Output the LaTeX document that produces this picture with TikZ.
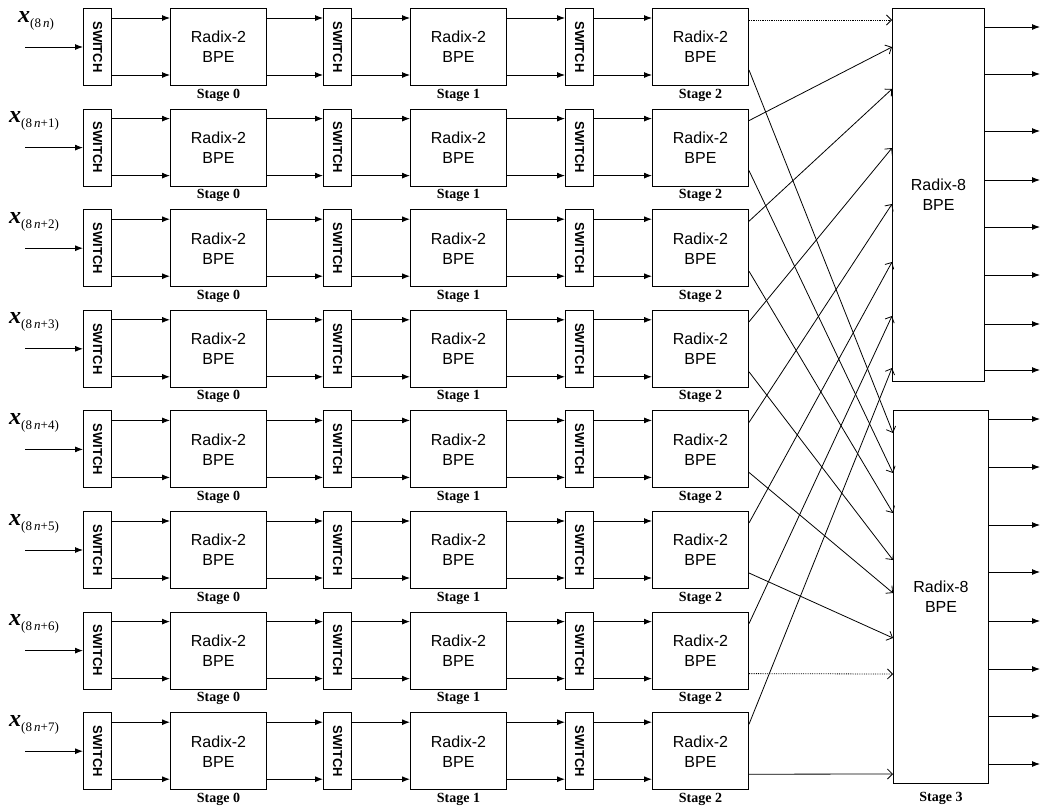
\documentclass[tikz,border=0pt]{standalone}
\usepackage{fontspec}
\setmainfont{Liberation Serif}
\setsansfont{Liberation Sans}
\usetikzlibrary{arrows.meta,calc}
\begin{document}
\begin{tikzpicture}[x=1pt,y=-1pt,
  box/.style={draw, line width=1pt, inner sep=0pt, anchor=north west},
  bpe/.style={box, minimum width=96pt, minimum height=77pt, align=center,
    font=\sffamily\fontsize{16}{20}\selectfont},
  sw/.style={box, minimum width=28pt, minimum height=77pt},
  swtext/.style={font=\sffamily\bfseries\fontsize{13}{13}\selectfont, rotate=-90, inner sep=0pt},
  stg/.style={font=\bfseries\fontsize{14}{15}\selectfont, inner sep=0pt},
  xlab/.style={anchor=base west, inner sep=0pt},
  arr/.style={line width=0.9pt, -{Latex[length=8pt,width=6pt]}},
  oarr/.style={line width=0.8pt, -{Straight Barb[length=5pt,width=10pt]}},
  r8/.style={box, align=center, font=\sffamily\fontsize{16}{20}\selectfont},
]
\useasboundingbox (0,0) rectangle (1042,807);

% Radix-8 blocks
\node[r8, minimum width=92pt, minimum height=373pt] (R8a) at (892,8) {Radix-8\\BPE};
\node[r8, minimum width=95pt, minimum height=373pt] (R8b) at (893,410) {Radix-8\\BPE};
\node[stg] (st3) at ($(R8b.south)+(0,14)$) {Stage 3};

% rows
\foreach \r in {0,...,7}{
  \pgfmathsetmacro\t{8+100.6*\r}
  \node[sw] (sa\r) at (83,\t) {};
  \node[swtext] (sat\r) at (sa\r.center) {SWITCH};
  \node[bpe] (ba\r) at (170,\t) {Radix-2\\BPE};
  \node[stg] (sta\r) at ($(ba\r.south)+(0,9)$) {Stage 0};
  \node[sw] (sb\r) at (323,\t) {};
  \node[swtext] (sbt\r) at (sb\r.center) {SWITCH};
  \node[bpe] (bb\r) at (410,\t) {Radix-2\\BPE};
  \node[stg] (stb\r) at ($(bb\r.south)+(0,9)$) {Stage 1};
  \node[sw] (sc\r) at (565,\t) {};
  \node[swtext] (sct\r) at (sc\r.center) {SWITCH};
  \node[bpe] (bc\r) at (652,\t) {Radix-2\\BPE};
  \node[stg] (stc\r) at ($(bc\r.south)+(0,9)$) {Stage 2};
  % input
  \coordinate (in\r) at (25,\t+39);
  \draw[arr] (in\r) -- (sa\r.west);
  % internal arrows
  \foreach \a/\b in {sa/ba, ba/sb, sb/bb, bb/sc, sc/bc}{
    \draw[arr] ($(\a\r.north east)+(0,10)$) -- ($(\b\r.north west)+(0,10)$);
    \draw[arr] ($(\a\r.north east)+(0,67)$) -- ($(\b\r.north west)+(0,67)$);
  }
}

% input labels
\node[xlab] (xl0) at (18,22) {{\fontsize{24}{24}\selectfont\bfseries\itshape x}\raisebox{-5pt}{\fontsize{13}{13}\selectfont(8\,\textit{n})}};
\foreach \r in {1,...,7}{
  \pgfmathsetmacro\t{8+100.6*\r}
  \node[xlab] (xl\r) at (9,\t+14) {{\fontsize{24}{24}\selectfont\bfseries\itshape x}\raisebox{-5pt}{\fontsize{13}{13}\selectfont(8\,\textit{n}+\r)}};
}

% stage 2 -> radix-8 connections
\foreach \r/\dy in {0/12,1/39,2/81,3/140,4/196,5/254,6/308,7/360}{
  \coordinate (ta\r) at ($(R8a.north west)+(0,\dy)$);
}
\foreach \r/\dy in {0/23,1/63,2/103,3/150,4/183,5/228,6/264,7/364}{
  \coordinate (tb\r) at ($(R8b.north west)+(0,\dy)$);
}
\foreach \r in {1,...,7}{
  \draw[oarr] ($(bc\r.north east)+(0,12)$) -- (ta\r);
}
\draw[oarr, densely dotted] ($(bc0.north east)+(0,12)$) -- (ta0);
\foreach \r in {0,1,2,3,4,5,7}{
  \draw[oarr] ($(bc\r.north east)+(0,62)$) -- (tb\r);
}
\draw[oarr, densely dotted] ($(bc6.north east)+(0,62)$) -- (tb6);

% outputs
\foreach \dy [count=\k] in {19,66,123,172,219,267,316,362}{
  \coordinate (oa\k) at (1040,8+\dy);
  \draw[arr] (R8a.east |- oa\k) -- (oa\k);
}
\foreach \dy [count=\k] in {9,57,115,162,211,259,306,354}{
  \coordinate (ob\k) at (1040,410+\dy);
  \draw[arr] (R8b.east |- ob\k) -- (ob\k);
}
\end{tikzpicture}
\end{document}
